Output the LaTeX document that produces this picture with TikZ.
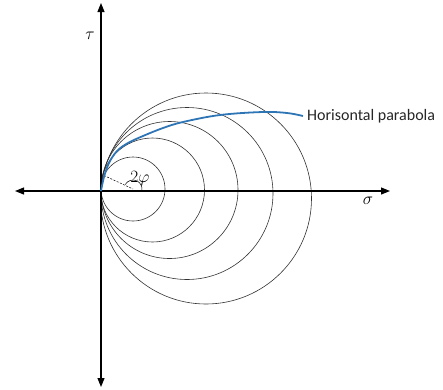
\documentclass[tikz,border=0pt]{standalone}
\usepackage{fontspec}
\newfontfamily\labfont{Carlito}
\usetikzlibrary{arrows.meta}
\definecolor{pblue}{RGB}{46,117,182}
\begin{document}
\begin{tikzpicture}[x=1pt,y=1pt,
  axis/.style={line width=1.1pt, {Triangle[length=9pt,width=7pt]}-{Triangle[length=9pt,width=7pt]}},
  circ/.style={line width=0.6pt, draw=black!80},
  parab/.style={line width=1.8pt, draw=pblue},
  mathlab/.style={font=\fontsize{16}{18}\selectfont, inner sep=0pt},
  txtlab/.style={font=\labfont\fontsize{16}{18}\selectfont, inner sep=0pt, anchor=west, text=black!85}]
\useasboundingbox (0,0) rectangle (443,-389);
\coordinate (O) at (101,-191);
\coordinate (xl) at (15,-191);
\coordinate (xr) at (390,-191);
\coordinate (yt) at (101,-3);
\coordinate (yb) at (101,-387);
% circles
\draw[circ] (133,-189) circle [radius=32pt];
\draw[circ] (152.5,-190) circle [radius=52pt];
\draw[circ] (169.5,-190) circle [radius=68.5pt];
\draw[circ] (187,-193.5) circle [radius=86pt];
\draw[circ] (206,-198.5) circle [radius=105.5pt];
% axes
\draw[axis] (xl) -- (xr);
\draw[axis] (yb) -- (yt);
% angle
\coordinate (C) at (133,-189);
\coordinate (P) at (104,-175.5);
\draw[line width=0.5pt, dash pattern=on 2pt off 1.5pt] (P) -- (C);
\draw[line width=0.5pt] (C) ++(150:9pt) arc[start angle=150, end angle=-10, radius=9pt];
\node[mathlab, font=\fontsize{17}{19}\selectfont] (phi) at (140,-179) {$2\varphi$};
% parabola
\draw[parab] plot[smooth, tension=0.6] coordinates {(101,-191) (104,-177) (109,-163) (117,-151) (128,-143) (143,-136) (163,-128) (183,-122) (220,-115) (263,-112) (287,-113) (303,-116)};
\node[txtlab] (lab) at (307,-116) {Horisontal parabola};
% axis labels
\node[mathlab] (tau) at (90,-36) {$\tau$};
\node[mathlab] (sig) at (368,-201) {$\sigma$};
\end{tikzpicture}
\end{document}
